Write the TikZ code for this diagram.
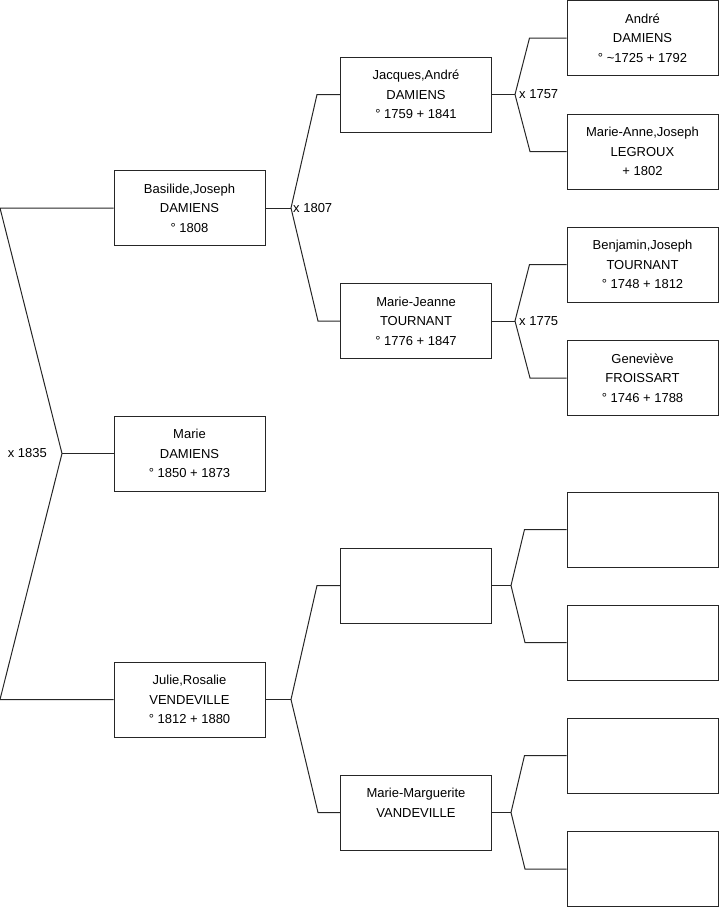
\documentclass[tikz,border=0pt]{standalone}
\usepackage{fontspec}
\setmainfont{Liberation Sans}
\begin{document}
\begin{tikzpicture}[x=1pt,y=-1pt,
  person/.style={draw=black!85, line width=1pt, fill=white, minimum width=151pt, minimum height=75pt,
    inner sep=0pt, align=center, font=\fontsize{13}{19.5}\selectfont, anchor=center},
  link/.style={draw=black!85, line width=1pt},
  marr/.style={font=\fontsize{13}{15}\selectfont, inner sep=1pt}]
\useasboundingbox (0,0) rectangle (719,908);
% generation 1
\node[person] (basilide) at (189.5,208) {Basilide,Joseph\\DAMIENS\\° 1808};
\node[person] (marie) at (189.5,453.5) {Marie\\DAMIENS\\° 1850 + 1873};
\node[person] (julie) at (189.5,699.5) {Julie,Rosalie\\VENDEVILLE\\° 1812 + 1880};
% generation 2
\node[person] (jacques) at (416,94.5) {Jacques,André\\DAMIENS\\° 1759 + 1841};
\node[person] (mjeanne) at (416,321) {Marie-Jeanne\\TOURNANT\\° 1776 + 1847};
\node[person] (empty2) at (416,585.5) {};
\node[person] (mmarg) at (416,812.5) {Marie-Marguerite\\VANDEVILLE\\\mbox{}};
% generation 3
\node[person] (andre) at (642.5,38) {André\\DAMIENS\\° \textasciitilde1725 + 1792};
\node[person] (manne) at (642.5,151.5) {Marie-Anne,Joseph\\LEGROUX\\+ 1802};
\node[person] (benjamin) at (642.5,264.5) {Benjamin,Joseph\\TOURNANT\\° 1748 + 1812};
\node[person] (genevieve) at (642.5,378) {Geneviève\\FROISSART\\° 1746 + 1788};
\node[person] (e1) at (642.5,529.5) {};
\node[person] (e2) at (642.5,642.5) {};
\node[person] (e3) at (642.5,755.5) {};
\node[person] (e4) at (642.5,869) {};
% root fork
\coordinate (rv) at (62,453.5);
\coordinate (rt) at (0,208);
\coordinate (rb) at (0,699.5);
\draw[link] (basilide.west) -- (rt) -- (rv) -- (rb) -- (julie.west);
\draw[link] (rv) -- (marie.west);
\node[marr, anchor=east] at (48,453.5) {x 1835};
% gen1 -> gen2 forks
\coordinate (v1) at (291,208);
\draw[link] (basilide.east) -- (v1);
\draw[link] (jacques.west) -- ++(-23,0) -- (v1) -- (318,321) -- (mjeanne.west);
\node[marr, anchor=west, xshift=1pt] at (v1) {x 1807};
\coordinate (v2) at (291,699.5);
\draw[link] (julie.east) -- (v2);
\draw[link] (empty2.west) -- ++(-23,0) -- (v2) -- (318,812.5) -- (mmarg.west);
% gen2 -> gen3 forks
\coordinate (v3) at (515,94.5);
\draw[link] (jacques.east) -- (v3);
\draw[link] (andre.west) -- ++(-37,0) -- (v3) -- (530,151.5) -- (manne.west);
\node[marr, anchor=west, xshift=3pt] at (v3) {x 1757};
\coordinate (v4) at (515,321);
\draw[link] (mjeanne.east) -- (v4);
\draw[link] (benjamin.west) -- ++(-37,0) -- (v4) -- (530,378) -- (genevieve.west);
\node[marr, anchor=west, xshift=3pt] at (v4) {x 1775};
\coordinate (v5) at (511,585.5);
\draw[link] (empty2.east) -- (v5);
\draw[link] (e1.west) -- ++(-42,0) -- (v5) -- (525,642.5) -- (e2.west);
\coordinate (v6) at (511,812.5);
\draw[link] (mmarg.east) -- (v6);
\draw[link] (e3.west) -- ++(-42,0) -- (v6) -- (525,869) -- (e4.west);
\end{tikzpicture}
\end{document}
